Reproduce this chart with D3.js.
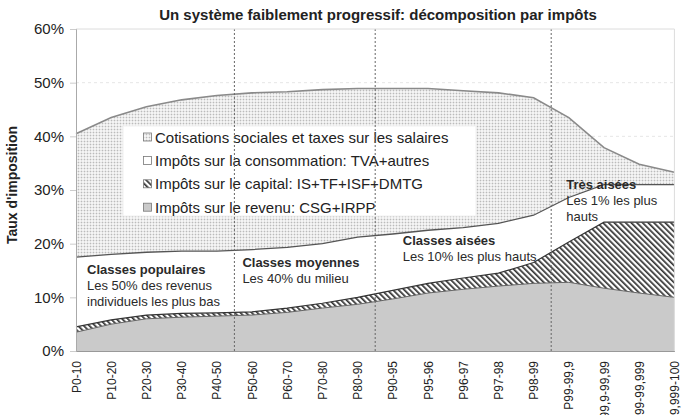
<!DOCTYPE html>
<html lang="fr">
<head>
<meta charset="UTF-8">
<title>Décomposition par impôts</title>
<script src="https://d3js.org/d3.v7.min.js"></script>
<style>
  body { margin: 0; background: #fff; }
  text { font-family: "Liberation Sans", Arial, sans-serif; }
</style>
</head>
<body>
<script>
  const width = 681
  const height = 415

  const categories = ['P0-10', 'P10-20', 'P20-30', 'P30-40', 'P40-50', 'P50-60', 'P60-70', 'P70-80', 'P80-90',
    'P90-95', 'P95-96', 'P96-97', 'P97-98', 'P98-99', 'P99-99,9', 'P99,9-99,99', 'P99,99-99,999', 'P99,999-100']

  // taux par couche (en %), de bas en haut
  const revenu = [3.5, 5.0, 6.0, 6.3, 6.5, 6.7, 7.2, 8.0, 8.7, 9.7, 10.8, 11.5, 12.1, 12.6, 12.8, 11.7, 10.8, 10.0]
  const capital = [1.0, 0.8, 0.7, 0.7, 0.6, 0.6, 0.8, 0.9, 1.3, 1.6, 1.8, 2.1, 2.4, 3.9, 7.5, 12.3, 13.2, 14.0]
  const consommation = [13.0, 12.2, 11.7, 11.6, 11.5, 11.6, 11.3, 11.1, 11.2, 10.5, 9.9, 9.4, 9.3, 8.8, 8.3, 7.0, 7.0, 7.0]
  const cotisations = [23.0, 25.5, 27.1, 28.2, 29.0, 29.2, 29.0, 28.7, 27.7, 27.1, 26.4, 25.5, 24.3, 21.9, 14.9, 6.9, 3.8, 2.3]

  const yTicks = [0, 10, 20, 30, 40, 50, 60]
  // séparations entre groupes (après l'indice)
  const separators = [4, 8, 13]

  const legendItems = [
    { key: 'cotisations', label: 'Cotisations sociales et taxes sur les salaires' },
    { key: 'consommation', label: 'Impôts sur la consommation: TVA+autres' },
    { key: 'capital', label: 'Impôts sur le capital: IS+TF+ISF+DMTG' },
    { key: 'revenu', label: 'Impôts sur le revenu: CSG+IRPP' }
  ]

  const annotations = [
    { i: 0, dx: 11, y: 274, lines: ['Classes populaires', 'Les 50% des revenus', 'individuels les plus bas'] },
    { i: 4.5, dx: 8, y: 267, lines: ['Classes moyennes', 'Les 40% du milieu'] },
    { i: 9, dx: 10, y: 245, lines: ['Classes aisées', 'Les 10% les plus hauts'] },
    { i: 13.5, dx: 15, y: 189, lines: ['Très aisées', 'Les 1% les plus', 'hauts'] }
  ]

  const table = categories.map((c, i) => ({
    cat: c, revenu: revenu[i], capital: capital[i], consommation: consommation[i], cotisations: cotisations[i]
  }))

  const keys = ['revenu', 'capital', 'consommation', 'cotisations']
  const series = d3.stack().keys(keys)(table)

  const margin = { left: 76, right: 6.6, top: 29, bottom: 64 }
  const x = d3.scalePoint()
    .domain(categories)
    .range([margin.left, width - margin.right])
  const y = d3.scaleLinear()
    .domain([0, 60])
    .range([height - margin.bottom, margin.top])

  const step = x.step()
  const xi = i => margin.left + i * step

  const svg = d3.select('body')
    .append('svg')
    .attr('width', width)
    .attr('height', height)

  const defs = svg.append('defs')

  const dots = defs.append('pattern')
    .attr('id', 'dots')
    .attr('patternUnits', 'userSpaceOnUse')
    .attr('width', 3)
    .attr('height', 3)
  dots.append('rect').attr('width', 3).attr('height', 3).attr('fill', '#f4f4f4')
  dots.append('rect').attr('width', 3).attr('height', 1).attr('fill', '#e4e4e4')
  dots.append('rect').attr('width', 1).attr('height', 3).attr('fill', '#e4e4e4')
  dots.append('rect').attr('width', 1).attr('height', 1).attr('fill', '#bbb')

  const hatch = defs.append('pattern')
    .attr('id', 'hatch')
    .attr('patternUnits', 'userSpaceOnUse')
    .attr('width', 4)
    .attr('height', 4)
    .attr('patternTransform', 'rotate(-45)')
  hatch.append('rect').attr('width', 4).attr('height', 4).attr('fill', '#fff')
  hatch.append('rect').attr('width', 1.7).attr('height', 4).attr('fill', '#333')

  const fills = {
    revenu: '#cacaca',
    capital: 'url(#hatch)',
    consommation: '#ffffff',
    cotisations: 'url(#dots)'
  }
  const strokes = {
    revenu: ['#666', 1],
    capital: ['#333', 1.2],
    consommation: ['#555', 1.3],
    cotisations: ['#8a8a8a', 1.6]
  }

  // grille
  svg.append('g')
    .selectAll('line')
    .data(yTicks.slice(1, -1))
    .enter()
    .append('line')
      .attr('x1', margin.left)
      .attr('x2', width - margin.right)
      .attr('y1', d => y(d))
      .attr('y2', d => y(d))
      .attr('stroke', '#e6e6e6')
      .attr('stroke-dasharray', '3,3')

  const area = d3.area()
    .x(d => x(d.data.cat))
    .y0(d => y(d[0]))
    .y1(d => y(d[1]))

  svg.append('g')
    .selectAll('path')
    .data(series)
    .enter()
    .append('path')
      .attr('d', area)
      .attr('fill', d => fills[d.key])

  const topLine = d3.line()
    .x(d => x(d.data.cat))
    .y(d => y(d[1]))

  svg.append('g')
    .selectAll('path')
    .data(series)
    .enter()
    .append('path')
      .attr('d', topLine)
      .attr('fill', 'none')
      .attr('stroke', d => strokes[d.key][0])
      .attr('stroke-width', d => strokes[d.key][1])

  // légende
  const legend = svg.append('g')
  legend.append('rect')
    .attr('x', 123)
    .attr('y', 126)
    .attr('width', 353)
    .attr('height', 90)
    .attr('fill', '#fff')
    .attr('stroke', '#f0f0f0')

  const li = legend.selectAll('g.item')
    .data(legendItems)
    .enter()
    .append('g')
      .attr('class', 'item')
      .attr('transform', (d, i) => `translate(143, ${137 + i * 23.4})`)
  li.append('rect')
    .attr('x', 0.5)
    .attr('y', -4)
    .attr('width', 8)
    .attr('height', 8)
    .attr('fill', d => fills[d.key])
    .attr('stroke', '#777')
    .attr('stroke-width', 0.8)
  li.append('text')
    .attr('x', 12)
    .attr('y', 5.5)
    .attr('font-size', 15)
    .attr('fill', '#222')
    .text(d => d.label)

  // annotations
  annotations.forEach(a => {
    const t = svg.append('text')
      .attr('x', xi(a.i) + a.dx)
      .attr('y', a.y)
      .attr('font-size', 13)
      .attr('fill', '#2a2a2a')
    a.lines.forEach((l, k) => {
      t.append('tspan')
        .attr('x', xi(a.i) + a.dx)
        .attr('dy', k === 0 ? 0 : 16)
        .attr('font-weight', k === 0 ? 'bold' : 'normal')
        .text(l)
    })
  })

  // séparateurs pointillés
  svg.append('g')
    .selectAll('line')
    .data(separators)
    .enter()
    .append('line')
      .attr('x1', d => xi(d + 0.5))
      .attr('x2', d => xi(d + 0.5))
      .attr('y1', margin.top)
      .attr('y2', y(0))
      .attr('stroke', '#666')
      .attr('stroke-width', 1)
      .attr('stroke-dasharray', '2,2')

  // cadre
  svg.append('path')
    .attr('d', `M${margin.left},${margin.top}H${width - margin.right}V${y(0)}`)
    .attr('fill', 'none')
    .attr('stroke', '#dcdcdc')

  // axe y
  const yAxis = svg.append('g')
    .attr('transform', `translate(${margin.left},0)`)
    .call(d3.axisLeft(y).tickValues(yTicks).tickFormat(d => d + '%').tickSize(6).tickPadding(6))
  yAxis.select('.domain').attr('stroke', '#aaa')
  yAxis.selectAll('.tick line').attr('stroke', '#ccc')
  yAxis.selectAll('.tick text')
    .attr('font-size', 15)
    .attr('fill', '#222')
    .attr('font-family', '"Liberation Sans", Arial, sans-serif')

  // axe x
  const xAxis = svg.append('g')
    .attr('transform', `translate(0,${y(0)})`)
    .call(d3.axisBottom(x).tickSize(0).tickPadding(0))
  xAxis.select('.domain').attr('stroke', '#999')
  xAxis.selectAll('.tick text')
    .attr('font-size', 12)
    .attr('fill', '#222')
    .attr('font-family', '"Liberation Sans", Arial, sans-serif')
    .attr('text-anchor', 'end')
    .attr('transform', 'translate(4,10) rotate(-90)')
    .attr('dy', 0)
    .attr('y', 0)
    .attr('x', 0)

  // titre
  svg.append('text')
    .attr('x', 378)
    .attr('y', 20)
    .attr('text-anchor', 'middle')
    .attr('font-size', 15)
    .attr('font-weight', 'bold')
    .attr('fill', '#222')
    .text('Un système faiblement progressif: décomposition par impôts')

  svg.append('text')
    .attr('transform', `translate(17, 185) rotate(-90)`)
    .attr('text-anchor', 'middle')
    .attr('font-size', 14)
    .attr('font-weight', 'bold')
    .attr('fill', '#222')
    .text("Taux d'imposition")
</script>
</body>
</html>
